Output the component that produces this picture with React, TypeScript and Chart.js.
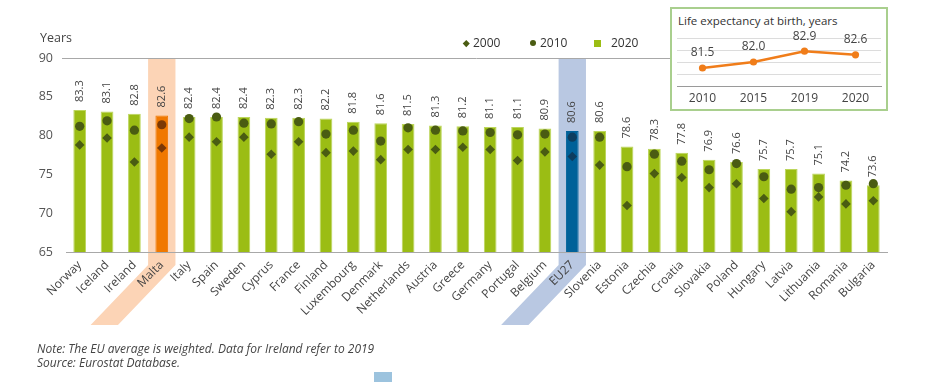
import React, { useEffect, useRef } from "react";
import { Chart, registerables } from "chart.js";

Chart.register(...registerables);

const FONT = "'Open Sans', 'Noto Sans', sans-serif";

const countries = ["Norway", "Iceland", "Ireland", "Malta", "Italy", "Spain", "Sweden", "Cyprus", "France", "Finland", "Luxembourg", "Denmark", "Netherlands", "Austria", "Greece", "Germany", "Portugal", "Belgium", "EU27", "Slovenia", "Estonia", "Czechia", "Croatia", "Slovakia", "Poland", "Hungary", "Latvia", "Lithuania", "Romania", "Bulgaria"];
const values2020 = [83.3, 83.1, 82.8, 82.6, 82.4, 82.4, 82.4, 82.3, 82.3, 82.2, 81.8, 81.6, 81.5, 81.3, 81.2, 81.1, 81.1, 80.9, 80.6, 80.6, 78.6, 78.3, 77.8, 76.9, 76.6, 75.7, 75.7, 75.1, 74.2, 73.6];
const values2010 = [81.2, 81.9, 80.7, 81.4, 82.2, 82.4, 81.6, 81.5, 81.8, 80.2, 80.7, 79.3, 81.0, 80.7, 80.6, 80.4, 80.1, 80.2, 79.8, 79.8, 76.0, 77.6, 76.7, 75.6, 76.4, 74.7, 73.1, 73.3, 73.6, 73.8];
const values2000 = [78.8, 79.7, 76.6, 78.4, 79.8, 79.2, 79.8, 77.6, 79.2, 77.8, 78.0, 76.9, 78.2, 78.2, 78.5, 78.2, 76.8, 77.9, 77.3, 76.2, 71.0, 75.1, 74.6, 73.3, 73.8, 71.9, 70.2, 72.1, 71.2, 71.6];
const yTicks = [65, 70, 75, 80, 85, 90];
const seriesNames = ["2000", "2010", "2020"];

const insetYears = ["2010", "2015", "2019", "2020"];
const insetValues = [81.5, 82.0, 82.9, 82.6];
const insetTicks = [80, 81, 82, 83, 84];

const highlightMalta = "Malta";
const highlightEU = "EU27";

const GREEN = "#9bbd14";
const GREEN_EDGE = "#bcd65c";
const ORANGE = "#f07800";
const BLUE = "#006199";
const OLIVE = "#4a5c12";
const MALTA_MARK = "#7b3805";
const EU_MARK = "#0d3d5f";
const BAND_ORANGE = "#fcd4b6";
const BAND_BLUE = "#b9c8e2";

const barColors = countries.map((c) => (c === highlightMalta ? ORANGE : c === highlightEU ? BLUE : GREEN));
const barEdges = countries.map((c) => (c === highlightMalta ? ORANGE : c === highlightEU ? BLUE : GREEN_EDGE));
const markColors = countries.map((c) => (c === highlightMalta ? MALTA_MARK : c === highlightEU ? EU_MARK : OLIVE));

const bandPlugin = {
  id: "bands",
  beforeDraw(chart: any) {
    const x = chart.scales.x;
    const area = chart.chartArea;
    const ctx = chart.ctx;
    const hw = (x.getPixelForValue(1) - x.getPixelForValue(0)) / 2;
    const items: [string, string][] = [
      [highlightMalta, BAND_ORANGE],
      [highlightEU, BAND_BLUE],
    ];
    items.forEach(([name, color]) => {
      const idx = countries.indexOf(name);
      const xc = x.getPixelForValue(idx);
      const b1 = area.bottom + 13;
      const b2 = area.bottom + 73;
      const shift = 57.5;
      ctx.save();
      ctx.fillStyle = color;
      ctx.beginPath();
      ctx.moveTo(xc - hw, area.top);
      ctx.lineTo(xc + hw, area.top);
      ctx.lineTo(xc + hw, b1);
      ctx.lineTo(xc + hw - shift, b2);
      ctx.lineTo(xc - hw - shift, b2);
      ctx.lineTo(xc - hw, b1);
      ctx.closePath();
      ctx.fill();
      ctx.restore();
    });
  },
};

const barLabelPlugin = {
  id: "barLabels",
  afterDatasetDraw(chart: any, args: any) {
    if (args.index !== 0) return;
    const ctx = chart.ctx;
    const meta = chart.getDatasetMeta(0);
    ctx.save();
    ctx.fillStyle = "#444";
    ctx.font = `11px ${FONT}`;
    ctx.textAlign = "left";
    ctx.textBaseline = "middle";
    meta.data.forEach((el: any, i: number) => {
      ctx.save();
      ctx.translate(el.x, el.y - 8);
      ctx.rotate(-Math.PI / 2);
      ctx.fillText(values2020[i].toFixed(1), 0, 0);
      ctx.restore();
    });
    ctx.restore();
  },
};

const insetLabelPlugin = {
  id: "insetLabels",
  afterDatasetsDraw(chart: any) {
    const ctx = chart.ctx;
    const meta = chart.getDatasetMeta(0);
    ctx.save();
    ctx.fillStyle = "#444";
    ctx.font = `12px ${FONT}`;
    ctx.textAlign = "center";
    ctx.textBaseline = "middle";
    meta.data.forEach((el: any, i: number) => {
      ctx.fillText(insetValues[i].toFixed(1), el.x, el.y - 15);
    });
    ctx.restore();
  },
};

export default function App() {
  const mainRef = useRef<HTMLCanvasElement>(null);
  const insetRef = useRef<HTMLCanvasElement>(null);

  useEffect(() => {
    const main = new Chart(mainRef.current as HTMLCanvasElement, {
      type: "bar",
      data: {
        labels: countries,
        datasets: [
          {
            label: seriesNames[2],
            data: values2020,
            backgroundColor: barColors,
            borderColor: barEdges,
            borderWidth: 1,
            barPercentage: 0.465,
            categoryPercentage: 1,
            order: 3,
          },
          {
            type: "line",
            label: seriesNames[1],
            data: values2010,
            showLine: false,
            pointStyle: "circle",
            pointRadius: 4.6,
            pointBorderWidth: 0,
            pointBackgroundColor: markColors,
            order: 1,
          } as any,
          {
            type: "line",
            label: seriesNames[0],
            data: values2000,
            showLine: false,
            pointStyle: "rectRot",
            pointRadius: 4.8,
            pointBorderWidth: 0,
            pointBackgroundColor: markColors,
            order: 2,
          } as any,
        ],
      },
      options: {
        responsive: false,
        animation: false,
        layout: { padding: { left: 0, right: 54, top: 58, bottom: 0 } },
        plugins: { legend: { display: false }, tooltip: { enabled: false } },
        scales: {
          x: {
            grid: { display: true, color: "rgba(0,0,0,0)", drawTicks: false },
            border: { display: true, color: "#a8a8a8", width: 1 },
            ticks: {
              autoSkip: false,
              minRotation: 45,
              maxRotation: 45,
              padding: 6,
              color: "#444",
              font: { family: FONT, size: 12 },
            },
            afterFit: (s: any) => {
              s.height = 135;
            },
          },
          y: {
            min: 65,
            max: 90,
            afterBuildTicks: (s: any) => {
              s.ticks = yTicks.map((v) => ({ value: v }));
            },
            grid: {
              color: (c: any) => (c.tick && c.tick.value === 90 ? "#a8a8a8" : "rgba(0,0,0,0)"),
              drawTicks: true,
              tickLength: 4,
            },
            border: { display: false },
            ticks: { padding: 9, color: "#555", font: { family: FONT, size: 12.5 } },
            afterFit: (s: any) => {
              s.width = 66;
            },
          },
        },
      } as any,
      plugins: [bandPlugin, barLabelPlugin],
    });

    const inset = new Chart(insetRef.current as HTMLCanvasElement, {
      type: "line",
      data: {
        labels: insetYears,
        datasets: [
          {
            data: insetValues,
            borderColor: "#f07d1a",
            backgroundColor: "#f07d1a",
            borderWidth: 2.5,
            pointRadius: 3.6,
            pointBackgroundColor: "#f07d1a",
            pointBorderWidth: 0,
            tension: 0,
          },
        ],
      },
      options: {
        responsive: false,
        animation: false,
        layout: { padding: { left: 5, right: 5, top: 28, bottom: 0 } },
        plugins: { legend: { display: false }, tooltip: { enabled: false } },
        scales: {
          x: {
            offset: true,
            grid: { display: false, drawTicks: false },
            border: { display: true, color: "#9a9a9a", width: 1 },
            ticks: { padding: 5, color: "#444", font: { family: FONT, size: 12 } },
            afterFit: (s: any) => {
              s.height = 23;
            },
          },
          y: {
            min: 80,
            max: 84,
            afterBuildTicks: (s: any) => {
              s.ticks = insetTicks.map((v) => ({ value: v }));
            },
            ticks: { display: false },
            grid: { color: "#dcdcdc", drawTicks: false },
            border: { display: false },
            afterFit: (s: any) => {
              s.width = 0;
            },
          },
        },
      } as any,
      plugins: [insetLabelPlugin],
    });

    return () => {
      main.destroy();
      inset.destroy();
    };
  }, []);

  const legendText: React.CSSProperties = {
    position: "absolute",
    top: 35,
    lineHeight: "16px",
    fontSize: 12,
    color: "#333",
  };

  return (
    <div style={{ position: "absolute", left: 0, top: 0, width: 941, height: 387, fontFamily: FONT, background: "#fff" }}>
      <canvas ref={mainRef} width={941} height={387} style={{ position: "absolute", left: 0, top: 0, width: 941, height: 387 }} />
      <div style={{ position: "absolute", left: 40, top: 30, lineHeight: "16px", fontSize: 12.5, color: "#444" }}>Years</div>

      <div style={{ position: "absolute", left: 463.5, top: 41, width: 4.5, height: 4.5, background: OLIVE, transform: "rotate(45deg)" }} />
      <div style={{ ...legendText, left: 473 }}>{seriesNames[0]}</div>
      <div style={{ position: "absolute", left: 530, top: 40.3, width: 6, height: 6, borderRadius: 3, background: OLIVE }} />
      <div style={{ ...legendText, left: 540 }}>{seriesNames[1]}</div>
      <div style={{ position: "absolute", left: 593.5, top: 40, width: 7, height: 7, background: GREEN }} />
      <div style={{ ...legendText, left: 611 }}>{seriesNames[2]}</div>

      <div
        style={{
          position: "absolute",
          left: 670,
          top: 7,
          width: 218,
          height: 104,
          boxSizing: "border-box",
          border: "2px solid #a9cf8e",
          background: "#fff",
        }}
      />
      <div style={{ position: "absolute", left: 678, top: 12.5, lineHeight: "16px", fontSize: 11.5, color: "#333" }}>
        Life expectancy at birth, years
      </div>
      <canvas ref={insetRef} width={214} height={99} style={{ position: "absolute", left: 672, top: 10, width: 214, height: 99 }} />

      <div style={{ position: "absolute", left: 37, top: 342, lineHeight: "14px", fontSize: 12, fontStyle: "italic", color: "#444" }}>
        <div>Note: The EU average is weighted. Data for Ireland refer to 2019</div>
        <div>Source: Eurostat Database.</div>
      </div>
      <div style={{ position: "absolute", left: 374, top: 372, width: 18, height: 10, background: "#9cc3de" }} />
    </div>
  );
}
